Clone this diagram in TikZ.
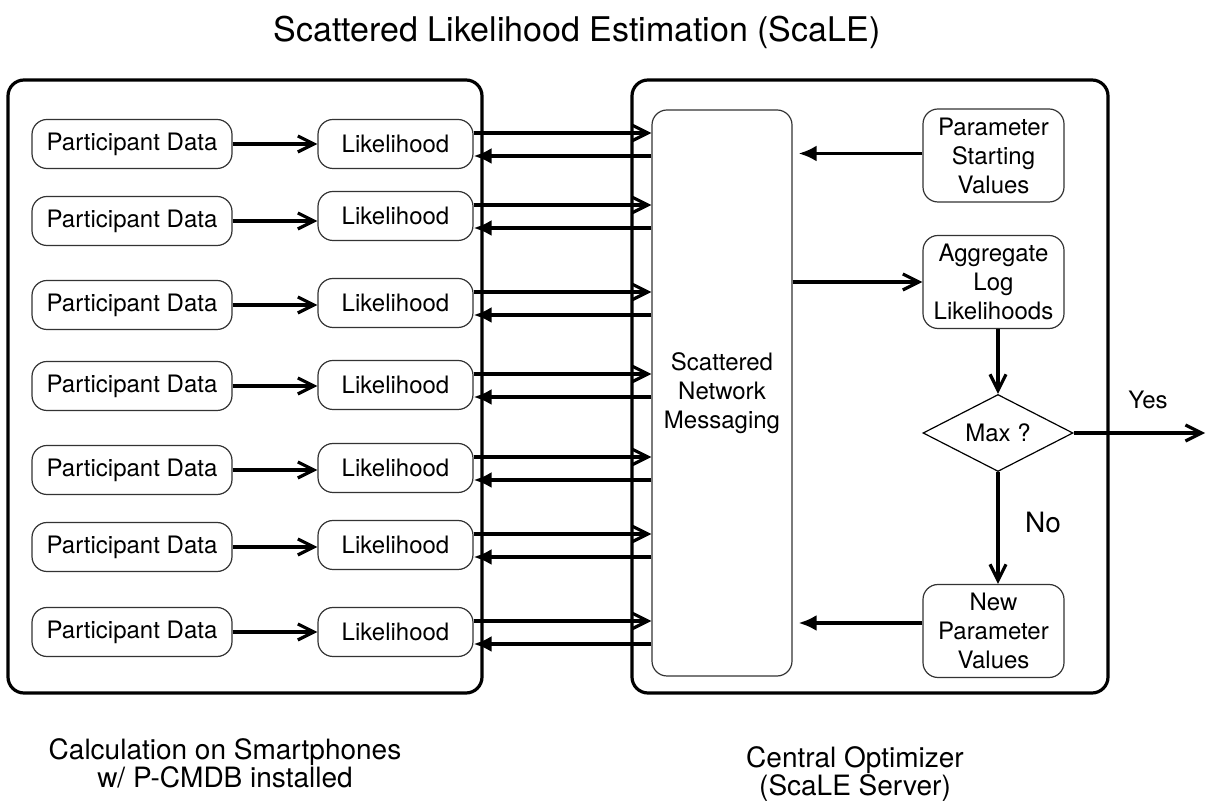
\documentclass[tikz,border=0pt]{standalone}
\usepackage{fontspec}
\setmainfont{TeX Gyre Heros}
\usetikzlibrary{arrows.meta,shapes.geometric}

\tikzset{
  box/.style={draw=black!80, line width=0.6pt, rounded corners=7.5pt, align=center,
    inner sep=0pt, font=\fontsize{12}{14.5}\selectfont},
  frame/.style={draw, line width=1.6pt, rounded corners=8pt},
  fwd/.style={line width=1.6pt, -{Straight Barb[length=8pt,width=8pt]}},
  back/.style={line width=1.6pt, -{Latex[length=9pt,width=8pt]}},
}

\begin{document}
\begin{tikzpicture}[x=0.5pt,y=-0.5pt]
  \useasboundingbox (0,0) rectangle (1206,801);
  \node[font=\fontsize{17}{20}\selectfont] (title) at (577,32) {Scattered Likelihood Estimation (ScaLE)};
  \draw[frame] (8,80) rectangle (482,693);
  \draw[frame] (632,80) rectangle (1108,693);

  \node[box, minimum width=70pt, minimum height=283pt] (snm) at (722,393) {Scattered\\Network\\Messaging};

  \foreach \i/\yp/\yl in {1/144/144, 2/221/216, 3/305/303, 4/386/385, 5/470/468, 6/547/545, 7/632/632} {
    \node[box, minimum width=100pt, minimum height=24.5pt] (pd\i) at (132,\yp) {Participant Data};
    \node[box, minimum width=77.5pt, minimum height=24.5pt] (lk\i) at (395.5,\yl) {Likelihood};
    \draw[fwd] (pd\i.east) -- (pd\i.east -| lk\i.west);
    \draw[fwd] ([yshift=5.5pt]lk\i.east) -- ([yshift=5.5pt]lk\i.east -| snm.west);
    \draw[back] ([yshift=-6pt]lk\i.east -| snm.west) -- ([yshift=-6pt]lk\i.east);
  }

  \node[box, minimum width=70.5pt, minimum height=46.5pt] (psv) at (993.5,155.5) {Parameter\\Starting\\Values};
  \node[box, minimum width=70.5pt, minimum height=46.5pt] (agg) at (993.5,282) {Aggregate\\Log\\Likelihoods};
  \node[diamond, draw, line width=0.6pt, aspect=2, inner sep=0pt, minimum width=75pt, minimum height=38.5pt,
    font=\fontsize{12}{14.5}\selectfont] (max) at (998,433) {Max ?};
  \node[box, minimum width=70.5pt, minimum height=46.5pt] (npv) at (993.5,631) {New\\Parameter\\Values};
  \coordinate (done) at (1205,433);

  \draw[back] ([yshift=1pt]psv.west) -- ([xshift=3pt,yshift=1pt]psv.west -| snm.east);
  \draw[fwd] (snm.east |- agg.west) -- (agg.west);
  \draw[fwd] (agg.south -| max.north) -- (max.north);
  \draw[fwd] (max.east) -- (done);
  \draw[fwd] (max.south) -- (max.south |- npv.north);
  \draw[back] ([yshift=4pt]npv.west) -- ([xshift=3pt,yshift=4pt]npv.west -| snm.east);
  \node[font=\fontsize{12}{14}\selectfont] (yes) at (1148,400) {Yes};
  \node[font=\fontsize{14}{14}\selectfont] (no) at (1043,523) {No};

  \node[align=center, font=\fontsize{14}{14}\selectfont] (phones) at (225,763) {Calculation on Smartphones\\w/ P-CMDB installed};
  \node[align=center, font=\fontsize{14}{14}\selectfont] (server) at (855,774) {Central Optimizer\\(ScaLE Server)};
\end{tikzpicture}
\end{document}
